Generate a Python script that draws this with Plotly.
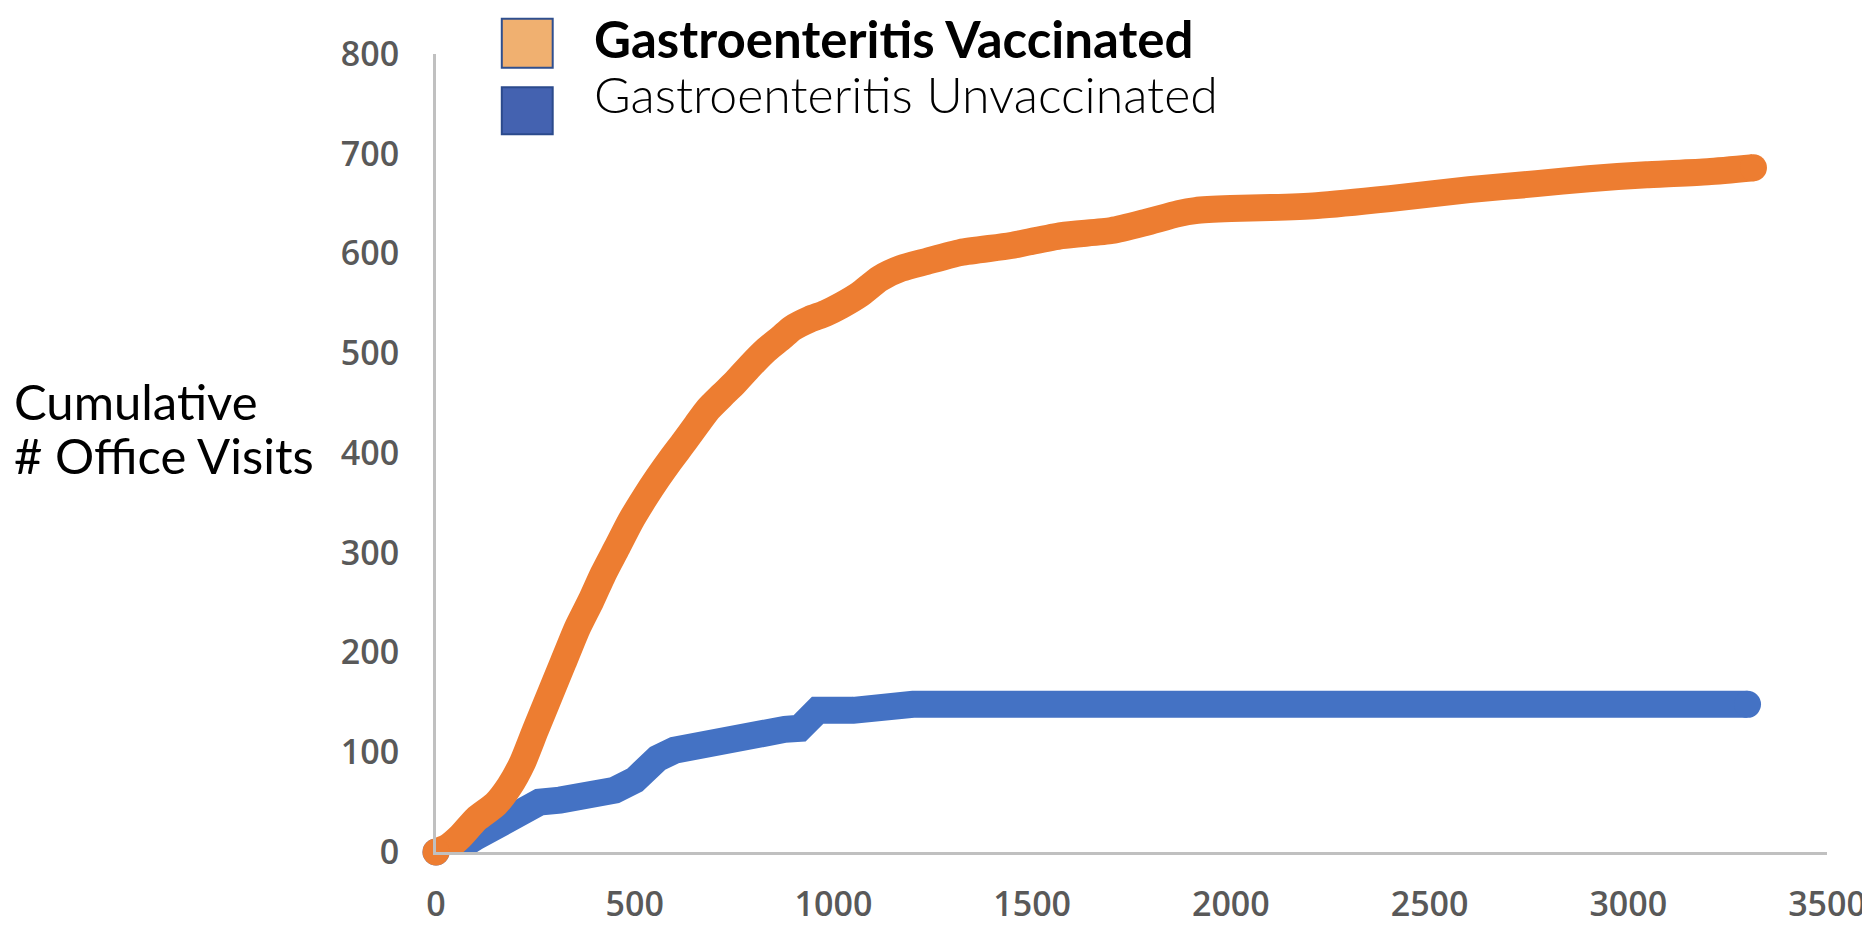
import plotly.graph_objects as go

# cumulative office visits
vacc_x = [0, 30, 60, 101, 150, 185, 218, 250, 287, 320, 355, 390, 421, 455,
          490, 525, 558, 590, 624, 655, 685, 720, 751, 790, 830, 870, 896, 940,
          980, 1020, 1066, 1117, 1170, 1234, 1320, 1447, 1574, 1700, 1784, 1868,
          1911, 2000, 2100, 2216, 2400, 2600, 2769, 2900, 3046, 3200, 3315]
vacc_y = [0, 5, 15, 33, 48, 66, 90, 122, 158, 190, 224, 252, 279, 305,
          332, 355, 375, 393, 411, 428, 444, 458, 470, 487, 503, 516, 525, 534,
          540, 548, 559, 575, 585, 592, 601, 608, 618, 623, 631, 640,
          643, 645, 646, 648, 655, 664, 670, 675, 679, 682, 686]

unvacc_x = [0, 50, 100, 150, 211, 260, 312, 406, 450, 500, 530, 558, 600, 650,
            726, 800, 878, 915, 935, 960, 1050, 1150, 1200, 3300]
unvacc_y = [0, 3, 15, 28, 45, 50, 52, 56, 62, 72, 84, 94, 102, 107,
            114, 120, 123, 124, 138, 142, 142, 145, 148, 148]

x_ticks = [0, 500, 1000, 1500, 2000, 2500, 3000, 3500]
y_ticks = [0, 100, 200, 300, 400, 500, 600, 700, 800]

ORANGE = '#ED7D31'
BLUE = '#4472C4'
W = 27


def end_caps(n):
    # round blobs only at the two ends of each thick line
    return [W] + [0] * (n - 2) + [W]


fig = go.Figure()
fig.add_trace(go.Scatter(
    x=unvacc_x, y=unvacc_y, mode='lines+markers',
    line=dict(color=BLUE, width=W),
    marker=dict(color=BLUE, size=end_caps(len(unvacc_x)), opacity=1,
                line=dict(width=0)),
    cliponaxis=False, showlegend=False, hoverinfo='skip',
))
fig.add_trace(go.Scatter(
    x=vacc_x, y=vacc_y, mode='lines+markers',
    line=dict(color=ORANGE, width=W, shape='spline', smoothing=0.6),
    marker=dict(color=ORANGE, size=end_caps(len(vacc_x)), opacity=1,
                line=dict(width=0)),
    cliponaxis=False, showlegend=False, hoverinfo='skip',
))

tick_font = dict(family='Open Sans', size=34, color='#595959', weight=600)

fig.update_layout(
    width=1870, height=930,
    margin=dict(l=428, r=47, t=46, b=69),
    paper_bgcolor='white', plot_bgcolor='white',
    xaxis=dict(range=[0, 3500], tickvals=x_ticks, showgrid=False, zeroline=False,
               showline=True, linecolor='#C0C0C0', linewidth=3,
               tickfont=tick_font, ticks='', ticklabelstandoff=20),
    yaxis=dict(range=[0, 800], tickvals=y_ticks, showgrid=False, zeroline=False,
               showline=True, linecolor='#C0C0C0', linewidth=3,
               tickfont=tick_font, ticks='', ticklabelstandoff=27),
)

# legend drawn by hand: coloured squares + labels
fig.add_shape(type='rect', xref='paper', yref='paper',
              x0=0.0473, x1=0.0839, y0=0.9828, y1=1.0442,
              fillcolor='#F0B070', line=dict(color='#2F4F8F', width=2))
fig.add_shape(type='rect', xref='paper', yref='paper',
              x0=0.0473, x1=0.0839, y0=0.8994, y1=0.9583,
              fillcolor='#4462B0', line=dict(color='#2B4A8C', width=2))
fig.add_annotation(xref='paper', yref='paper', x=0.1118, y=1.0196,
                   xanchor='left', yanchor='middle', showarrow=False,
                   text='<b>Gastroenteritis Vaccinated</b>',
                   font=dict(family='Lato', size=51, color='black'))
fig.add_annotation(xref='paper', yref='paper', x=0.1118, y=0.950,
                   xanchor='left', yanchor='middle', showarrow=False,
                   text='Gastroenteritis Unvaccinated',
                   font=dict(family='Lato', size=50, color='black', weight=300))

# y-axis title, two left-aligned lines
fig.add_annotation(xref='paper', yref='paper', x=-0.3046, y=0.5656,
                   xanchor='left', yanchor='middle', showarrow=False,
                   text='Cumulative',
                   font=dict(family='Lato', size=49, color='black'))
fig.add_annotation(xref='paper', yref='paper', x=-0.3046, y=0.4969,
                   xanchor='left', yanchor='middle', showarrow=False,
                   text='# Office Visits',
                   font=dict(family='Lato', size=49, color='black'))

fig.write_html("out.html")
